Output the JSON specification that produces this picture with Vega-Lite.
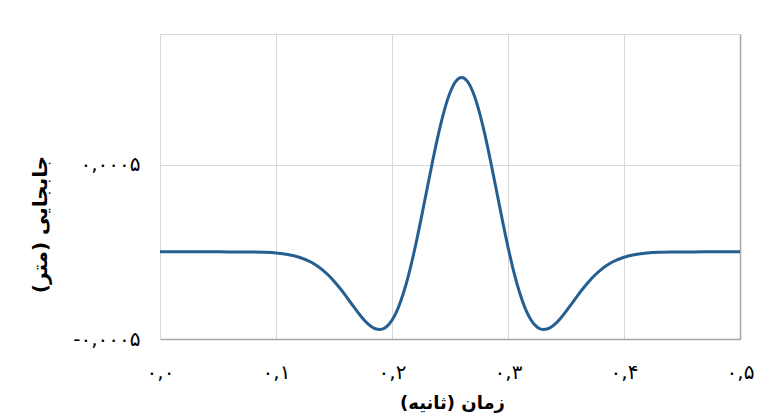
{
  "$schema": "https://vega.github.io/schema/vega-lite/v6.json",
  "width": 580,
  "height": 305,
  "autosize": "none",
  "padding": {"left": 160, "top": 34, "right": 27, "bottom": 80},
  "background": "white",
  "data": {"values": [
    {"t": 0, "d": 0},
    {"t": 0.02, "d": 0},
    {"t": 0.04, "d": 0},
    {"t": 0.06, "d": -0.0000002},
    {"t": 0.08, "d": -0.00000116},
    {"t": 0.09, "d": -0.00000291},
    {"t": 0.10, "d": -0.00000684},
    {"t": 0.11, "d": -0.0000150},
    {"t": 0.12, "d": -0.0000308},
    {"t": 0.13, "d": -0.0000585},
    {"t": 0.135, "d": -0.0000785},
    {"t": 0.14, "d": -0.0001032},
    {"t": 0.145, "d": -0.0001330},
    {"t": 0.15, "d": -0.0001680},
    {"t": 0.155, "d": -0.0002077},
    {"t": 0.16, "d": -0.0002511},
    {"t": 0.165, "d": -0.0002966},
    {"t": 0.17, "d": -0.0003418},
    {"t": 0.175, "d": -0.0003834},
    {"t": 0.18, "d": -0.0004175},
    {"t": 0.185, "d": -0.0004398},
    {"t": 0.19, "d": -0.0004459},
    {"t": 0.195, "d": -0.0004313},
    {"t": 0.20, "d": -0.0003924},
    {"t": 0.205, "d": -0.0003268},
    {"t": 0.21, "d": -0.0002336},
    {"t": 0.215, "d": -0.0001143},
    {"t": 0.22, "d": 0.0000277},
    {"t": 0.225, "d": 0.0001863},
    {"t": 0.23, "d": 0.0003536},
    {"t": 0.235, "d": 0.0005201},
    {"t": 0.24, "d": 0.0006755},
    {"t": 0.245, "d": 0.0008094},
    {"t": 0.25, "d": 0.0009126},
    {"t": 0.255, "d": 0.0009777},
    {"t": 0.26, "d": 0.0010000},
    {"t": 0.265, "d": 0.0009777},
    {"t": 0.27, "d": 0.0009126},
    {"t": 0.275, "d": 0.0008094},
    {"t": 0.28, "d": 0.0006755},
    {"t": 0.285, "d": 0.0005201},
    {"t": 0.29, "d": 0.0003536},
    {"t": 0.295, "d": 0.0001863},
    {"t": 0.30, "d": 0.0000277},
    {"t": 0.305, "d": -0.0001143},
    {"t": 0.31, "d": -0.0002336},
    {"t": 0.315, "d": -0.0003268},
    {"t": 0.32, "d": -0.0003924},
    {"t": 0.325, "d": -0.0004313},
    {"t": 0.33, "d": -0.0004459},
    {"t": 0.335, "d": -0.0004398},
    {"t": 0.34, "d": -0.0004175},
    {"t": 0.345, "d": -0.0003834},
    {"t": 0.35, "d": -0.0003418},
    {"t": 0.355, "d": -0.0002966},
    {"t": 0.36, "d": -0.0002511},
    {"t": 0.365, "d": -0.0002077},
    {"t": 0.37, "d": -0.0001680},
    {"t": 0.375, "d": -0.0001330},
    {"t": 0.38, "d": -0.0001032},
    {"t": 0.385, "d": -0.0000785},
    {"t": 0.39, "d": -0.0000585},
    {"t": 0.40, "d": -0.0000308},
    {"t": 0.41, "d": -0.0000150},
    {"t": 0.42, "d": -0.00000684},
    {"t": 0.43, "d": -0.00000291},
    {"t": 0.44, "d": -0.00000116},
    {"t": 0.46, "d": -0.0000002},
    {"t": 0.48, "d": 0},
    {"t": 0.5, "d": 0}
  ]},
  "layer": [
    {
      "mark": {"type": "line", "color": "#255E91", "strokeWidth": 3, "interpolate": "monotone", "clip": true},
      "encoding": {
        "x": {
          "field": "t", "type": "quantitative",
          "scale": {"domain": [0, 0.5], "nice": false, "zero": false},
          "axis": {
            "values": [0, 0.1, 0.2, 0.3, 0.4, 0.5],
            "format": ".1f",
            "title": "زمان (ثانیه)",
            "grid": true,
            "gridColor": "#d9d9d9",
            "domainColor": "#a6a6a6",
            "domainWidth": 1.5,
            "ticks": false,
            "labelFlush": false,
            "labelPadding": 23,
            "labelFontSize": 20,
            "labelColor": "#000000",
            "labelFont": "DejaVu Sans",
            "titleFont": "DejaVu Sans",
            "titleFontSize": 18,
            "titleFontWeight": "bold",
            "titleColor": "#000000",
            "titleX": 292,
            "titleY": 64,
            "titleBaseline": "middle"
          }
        },
        "y": {
          "field": "d", "type": "quantitative",
          "scale": {"domain": [-0.0005, 0.00125], "nice": false, "zero": false},
          "axis": {
            "values": [-0.0005, 0.0005],
            "format": ".4f",
            "title": "جابجایی (متر)",
            "grid": true,
            "gridColor": "#d9d9d9",
            "domainColor": "#d9d9d9",
            "ticks": false,
            "labelFlush": false,
            "labelPadding": 20,
            "labelFontSize": 20,
            "labelColor": "#000000",
            "labelFont": "DejaVu Sans",
            "titleFont": "DejaVu Sans",
            "titleFontSize": 20,
            "titleFontWeight": "bold",
            "titleColor": "#000000",
            "titleX": -120,
            "titleY": 190,
            "titleBaseline": "middle"
          }
        }
      }
    },
    {
      "mark": {"type": "line", "strokeOpacity": 0},
      "encoding": {
        "x": {"field": "t", "type": "quantitative"},
        "y": {
          "field": "d", "type": "quantitative",
          "axis": {"orient": "right", "labels": false, "ticks": false, "grid": false, "title": null, "domainColor": "#a6a6a6", "domainWidth": 1.5}
        }
      }
    }
  ],
  "resolve": {"axis": {"y": "independent"}},
  "config": {
    "view": {"stroke": "#d9d9d9", "strokeWidth": 1},
    "locale": {
      "number": {
        "decimal": ",",
        "thousands": "٬",
        "grouping": [3],
        "currency": ["", ""],
        "numerals": ["۰", "۱", "۲", "۳", "۴", "۵", "۶", "۷", "۸", "۹"],
        "minus": "-"
      }
    }
  }
}
